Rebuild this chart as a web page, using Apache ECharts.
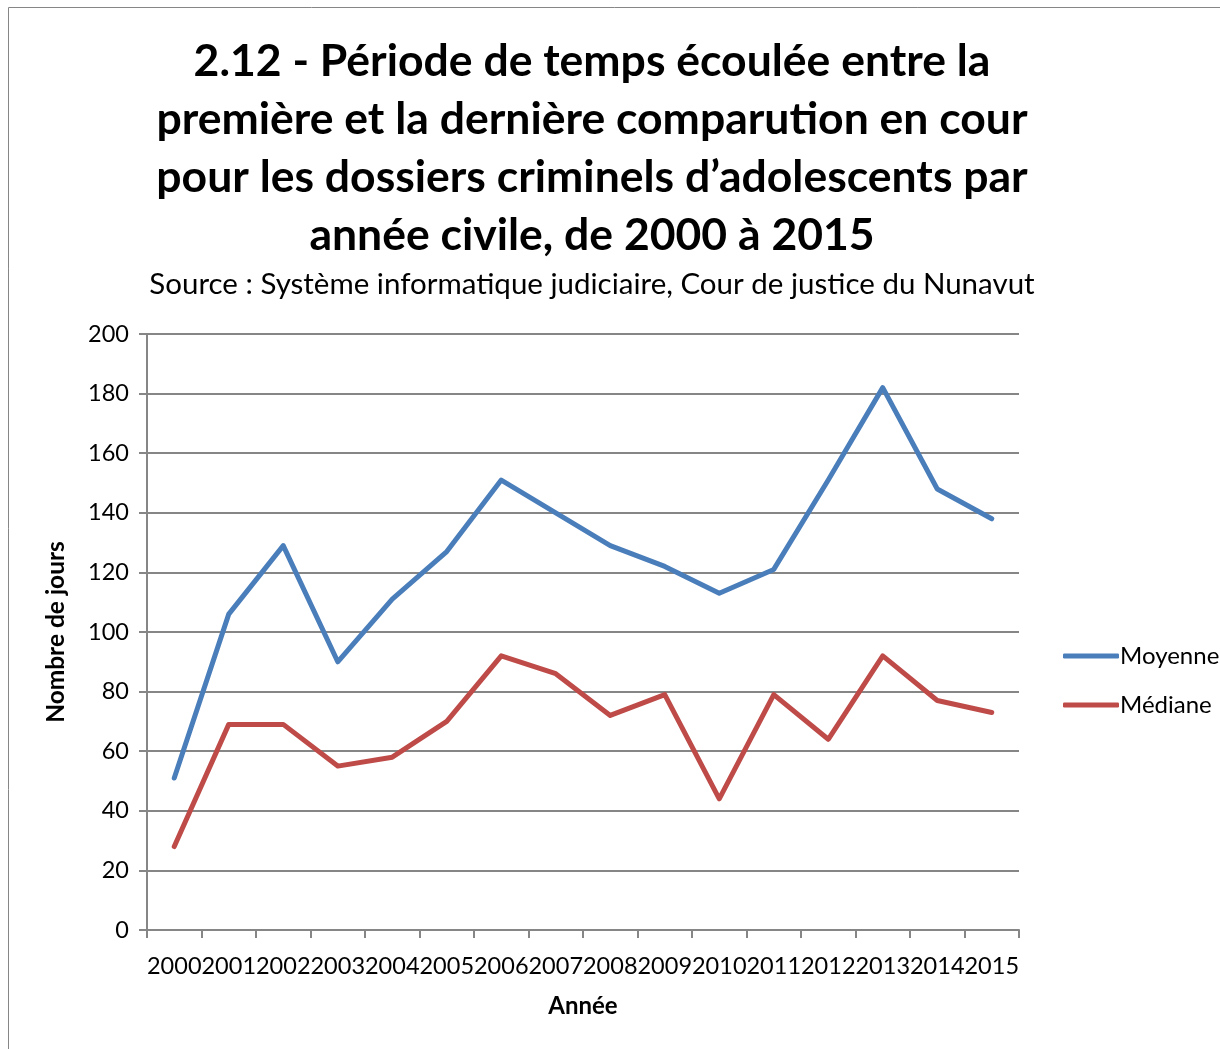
<!DOCTYPE html>
<html>
<head>
<meta charset="utf-8">
<script src="https://cdn.jsdelivr.net/npm/echarts@6/dist/echarts.min.js"></script>
<style>
  html, body { margin: 0; padding: 0; background: #fff; }
  #chart { width: 1220px; height: 1049px; }
</style>
</head>
<body>
<div id="chart"></div>
<script>
const years = ["2000", "2001", "2002", "2003", "2004", "2005", "2006", "2007",
  "2008", "2009", "2010", "2011", "2012", "2013", "2014", "2015"];
const moyenne = [51, 106, 129, 90, 111, 127, 151, 140, 129, 122, 113, 121, 151, 182, 148, 138];
const mediane = [28, 69, 69, 55, 58, 70, 92, 86, 72, 79, 44, 79, 64, 92, 77, 73];
const yTicks = [0, 20, 40, 60, 80, 100, 120, 140, 160, 180, 200];

const font = "Lato, 'Open Sans', sans-serif";
const chart = echarts.init(document.getElementById("chart"));

chart.setOption({
  backgroundColor: "#fff",
  animation: false,
  graphic: [
    {
      type: "rect",
      shape: { x: 8.5, y: 7.5, width: 1230, height: 1060 },
      style: { fill: "none", stroke: "#868686", lineWidth: 1 },
      silent: true
    }
  ],
  title: [
    {
      text: "2.12 - Période de temps écoulée entre la\npremière et la dernière comparution en cour\npour les dossiers criminels d’adolescents par\nannée civile, de 2000 à 2015",
      left: 587,
      textAlign: "center",
      top: 28,
      textStyle: { fontFamily: font, fontWeight: "bold", fontSize: 44.5, lineHeight: 58, color: "#000" }
    },
    {
      text: "Source : Système informatique judiciaire, Cour de justice du Nunavut",
      left: 587,
      textAlign: "center",
      top: 264,
      textStyle: { fontFamily: font, fontWeight: "normal", fontSize: 29.5, color: "#000" }
    }
  ],
  legend: {
    orient: "vertical",
    left: 1058,
    top: 639,
    icon: "roundRect",
    itemWidth: 56,
    itemHeight: 5,
    itemGap: 25,
    textStyle: { fontFamily: font, fontSize: 24, color: "#000", padding: [0, 0, 0, -4] },
    data: ["Moyenne", "Médiane"]
  },
  grid: { left: 147, right: 201, top: 334, bottom: 119, containLabel: false },
  xAxis: {
    type: "category",
    data: years,
    boundaryGap: true,
    name: "Année",
    nameLocation: "middle",
    nameGap: 64,
    nameTextStyle: { fontFamily: font, fontWeight: "bold", fontSize: 24, color: "#000" },
    axisLine: { lineStyle: { color: "#868686", width: 2 } },
    axisTick: { show: true, length: 8, interval: 0, lineStyle: { color: "#868686", width: 2 } },
    axisLabel: { interval: 0, fontFamily: font, fontSize: 23.5, color: "#000", margin: 24 }
  },
  yAxis: {
    type: "value",
    min: 0,
    max: 200,
    interval: 20,
    name: "Nombre de jours",
    nameLocation: "middle",
    nameRotate: 90,
    nameGap: 78,
    nameTextStyle: { fontFamily: font, fontWeight: "bold", fontSize: 24.5, color: "#000" },
    axisLine: { show: true, lineStyle: { color: "#868686", width: 2 } },
    axisTick: { show: true, length: 8, lineStyle: { color: "#868686", width: 2 } },
    axisLabel: {
      fontFamily: font, fontSize: 23.5, color: "#000", margin: 18,
      formatter: (v) => (yTicks.includes(v) ? String(v) : "")
    },
    splitLine: { show: true, lineStyle: { color: "#868686", width: 2 } }
  },
  series: [
    {
      name: "Moyenne",
      type: "line",
      data: moyenne,
      symbol: "none",
      lineStyle: { color: "#4A7EBB", width: 5, cap: "round", join: "round" },
      itemStyle: { color: "#4A7EBB" }
    },
    {
      name: "Médiane",
      type: "line",
      data: mediane,
      symbol: "none",
      lineStyle: { color: "#BE4B48", width: 5, cap: "round", join: "round" },
      itemStyle: { color: "#BE4B48" }
    }
  ]
});
</script>
</body>
</html>
